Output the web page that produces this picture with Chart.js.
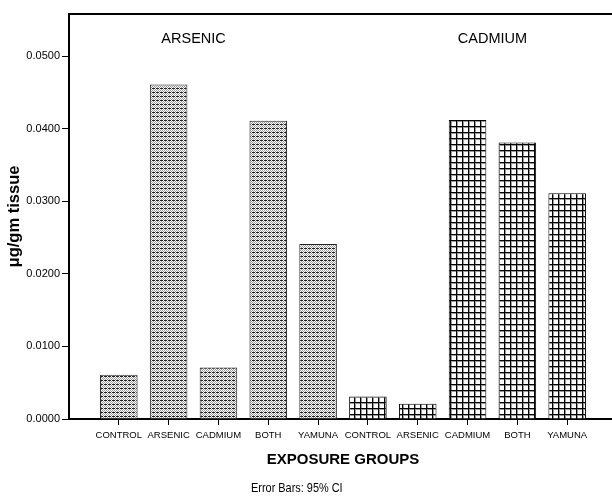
<!DOCTYPE html>
<html lang="en">
<head>
<meta charset="UTF-8">
<title>Metal concentration by exposure group</title>
<script src="https://cdn.jsdelivr.net/npm/chart.js"></script>
<style>
  html, body { margin: 0; padding: 0; background: #fff; overflow: hidden; }
  #chart { display: block; }
</style>
</head>
<body>
<canvas id="chart" width="617" height="504"></canvas>
<script>
  // exposure groups, repeated for each metal panel
  const groups = ['CONTROL', 'ARSENIC', 'CADMIUM', 'BOTH', 'YAMUNA'];
  // mean concentration (µg/gm tissue)
  const arsenicValues = [0.0061, 0.0461, 0.0071, 0.0411, 0.0241];
  const cadmiumValues = [0.0031, 0.0021, 0.0412, 0.0381, 0.0311];
  const yTicks = [0, 0.01, 0.02, 0.03, 0.04, 0.05];
  const panelTitles = ['ARSENIC', 'CADMIUM'];

  const FONT = '"Liberation Sans", Arial, sans-serif';
  const canvas = document.getElementById('chart');
  const mainCtx = canvas.getContext('2d');

  // empty slot at each end so the first/last bars sit in from the frame
  const pad = n => Array(n).fill(null);
  const labels = ['', ...groups, ...groups, ''];
  const arsenicData = [null, ...arsenicValues, ...pad(6)];
  const cadmiumData = [...pad(6), ...cadmiumValues, null];

  // fine dotted fill (arsenic panel)
  function dotPattern() {
    const c = document.createElement('canvas');
    c.width = 4; c.height = 4;
    const g = c.getContext('2d');
    g.fillStyle = '#fff';
    g.fillRect(0, 0, 4, 4);
    g.fillStyle = '#222';
    g.fillRect(0, 0, 3, 1);
    g.fillStyle = '#999';
    [[1, 1], [3, 1], [0, 2], [2, 2], [1, 3], [3, 3]].forEach(p => g.fillRect(p[0], p[1], 1, 1));
    return mainCtx.createPattern(c, 'repeat');
  }

  // square grid fill (cadmium panel)
  function gridPattern() {
    const c = document.createElement('canvas');
    c.width = 6; c.height = 6;
    const g = c.getContext('2d');
    g.fillStyle = '#fff';
    g.fillRect(0, 0, 6, 6);
    g.fillStyle = '#999';
    g.fillRect(1, 0, 1, 6);
    g.fillRect(0, 1, 6, 1);
    g.fillStyle = '#000';
    g.fillRect(0, 0, 1, 6);
    g.fillRect(0, 0, 6, 1);
    return mainCtx.createPattern(c, 'repeat');
  }

  const notes = {
    id: 'notes',
    afterDraw(chart) {
      const { ctx, chartArea, scales: { x } } = chart;
      ctx.save();
      ctx.fillStyle = '#000';
      ctx.textAlign = 'center';
      ctx.textBaseline = 'middle';
      ctx.font = '14.5px ' + FONT;
      panelTitles.forEach((t, i) => ctx.fillText(t, x.getPixelForValue(2.5 + i * 6), chartArea.top + 25));
      // footnote, a bit condensed like the SPSS output
      ctx.translate(251, 488);
      ctx.scale(0.84, 1);
      ctx.textAlign = 'left';
      ctx.font = '13px ' + FONT;
      ctx.fillText('Error Bars: 95% CI', 0, 0);
      ctx.restore();
    }
  };

  new Chart(canvas, {
    type: 'bar',
    data: {
      labels: labels,
      datasets: [{
        label: 'Arsenic',
        data: arsenicData,
        backgroundColor: dotPattern(),
        borderColor: '#222',
        borderWidth: 1
      }, {
        label: 'Cadmium',
        data: cadmiumData,
        backgroundColor: gridPattern(),
        borderColor: '#000',
        borderWidth: 1
      }]
    },
    options: {
      responsive: false,
      animation: false,
      devicePixelRatio: 1,
      grouped: false,
      categoryPercentage: 1,
      barPercentage: 0.754,
      layout: { padding: { top: 14, left: 0, right: 0, bottom: 0 } },
      plugins: {
        legend: { display: false },
        tooltip: { enabled: false }
      },
      scales: {
        x: {
          type: 'category',
          offset: false,
          grid: {
            offset: false,
            drawOnChartArea: false,
            tickLength: 6,
            tickWidth: 1,
            tickColor: c => (c.index === 0 || c.index === labels.length - 1) ? 'rgba(0,0,0,0)' : '#000'
          },
          border: { color: '#000', width: 2 },
          ticks: {
            autoSkip: false,
            maxRotation: 0,
            padding: 5,
            color: '#000',
            font: { family: FONT, size: 9.5 }
          },
          title: {
            display: true,
            text: 'EXPOSURE GROUPS',
            color: '#000',
            font: { family: FONT, size: 15, weight: 'bold' },
            padding: { top: 0, bottom: 35 }
          },
          afterFit: s => { s.height = 85; s.paddingLeft = 0; s.paddingRight = 0; }
        },
        x2: {
          type: 'category',
          axis: 'x',
          position: 'top',
          grid: { display: false },
          ticks: { display: false },
          border: { color: '#000', width: 2 },
          afterFit: s => { s.height = 0; s.paddingLeft = 0; s.paddingRight = 0; }
        },
        y: {
          min: 0,
          max: 0.0558,
          grid: { drawOnChartArea: false, tickLength: 7, color: '#000' },
          border: { color: '#000', width: 2 },
          ticks: {
            padding: 2,
            color: '#000',
            font: { family: FONT, size: 11 },
            callback: v => v.toFixed(4)
          },
          afterBuildTicks: s => { s.ticks = yTicks.map(v => ({ value: v })); },
          title: {
            display: true,
            text: 'μg/gm tissue',
            color: '#000',
            font: { family: FONT, size: 16.5, weight: 'bold' },
            padding: { top: 5, bottom: 0 }
          },
          afterFit: s => { s.width = 69; }
        }
      }
    },
    plugins: [notes]
  });
</script>
</body>
</html>
